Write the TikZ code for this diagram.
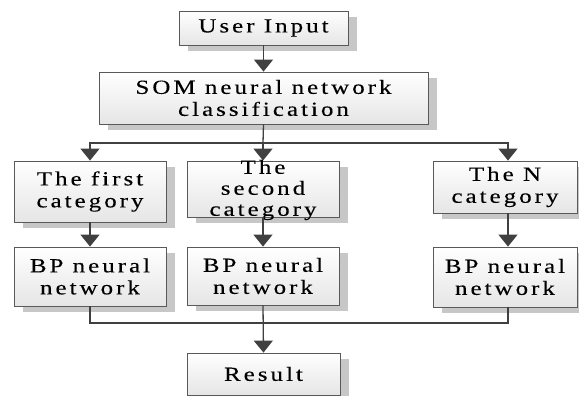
\documentclass[tikz,border=0pt]{standalone}
\usepackage{fontspec}
\newfontfamily\wf[LetterSpace=15,FakeStretch=1.25,FakeBold=0.2]{Liberation Serif}
\usetikzlibrary{arrows.meta,shadows}
\tikzset{
  box/.style={draw=black!65, line width=0.8pt, top color=white, bottom color=black!10,
    inner sep=0pt, align=center, font=\wf\fontsize{20}{22}\selectfont, text=black,
    drop shadow={shadow xshift=9pt, shadow yshift=-6pt, fill=black!22, opacity=1}},
  txt/.style={inner sep=0pt, align=center, font=\wf\fontsize{20}{21}\selectfont, text=black},
  conn/.style={draw=black!75, line width=1.3pt},
  arr/.style={conn, -{Triangle[width=19pt,length=12pt]}}
}
\begin{document}
\begin{tikzpicture}[x=1pt,y=-1pt]
\useasboundingbox (0,0) rectangle (579,396);
\node[box, minimum width=169pt, minimum height=34pt] (ui) at (263.5,28) {User Input};
\node[box, minimum width=329pt, minimum height=52pt] (som) at (263.5,98) {SOM neural network\\classification};
\node[box, minimum width=152pt, minimum height=61pt] (c1) at (90,191.5) {The first\\category};
\node[box, minimum width=152pt, minimum height=56pt] (c2) at (263,189) {};
\node[txt] (c2t) at (263,190) {The\\second\\category};
\node[box, minimum width=144pt, minimum height=52pt] (c3) at (505,187) {The N\\category};
\node[box, minimum width=152pt, minimum height=59pt] (b1) at (90,276.5) {BP neural\\network};
\node[box, minimum width=152pt, minimum height=58pt] (b2) at (263,276) {BP neural\\network};
\node[box, minimum width=144pt, minimum height=60pt] (b3) at (505,277) {BP neural\\network};
\node[box, minimum width=153pt, minimum height=42pt] (res) at (263.5,374) {Result};
\coordinate (bus1) at (263,143);
\coordinate (bus2) at (263,323);
\draw[arr] (ui.south) -- (som.south |- ui.south) -- (som.north);
\draw[conn] (som.south) -- (bus1);
\draw[arr] (bus1) -| (c1.north);
\draw[arr] (bus1) -| ([xshift=3pt]c3.north);
\draw[arr] (bus1) -- (c2.north);
\draw[arr] (c1.south) -- (b1.north);
\draw[arr] (c2.south) -- (b2.north);
\draw[arr] ([xshift=3pt]c3.south) -- ([xshift=3pt]b3.north);
\draw[conn] (b1.south) |- (bus2);
\draw[conn] ([xshift=3pt]b3.south) |- (bus2);
\draw[arr] (b2.south) -- (res.north);
\end{tikzpicture}
\end{document}
